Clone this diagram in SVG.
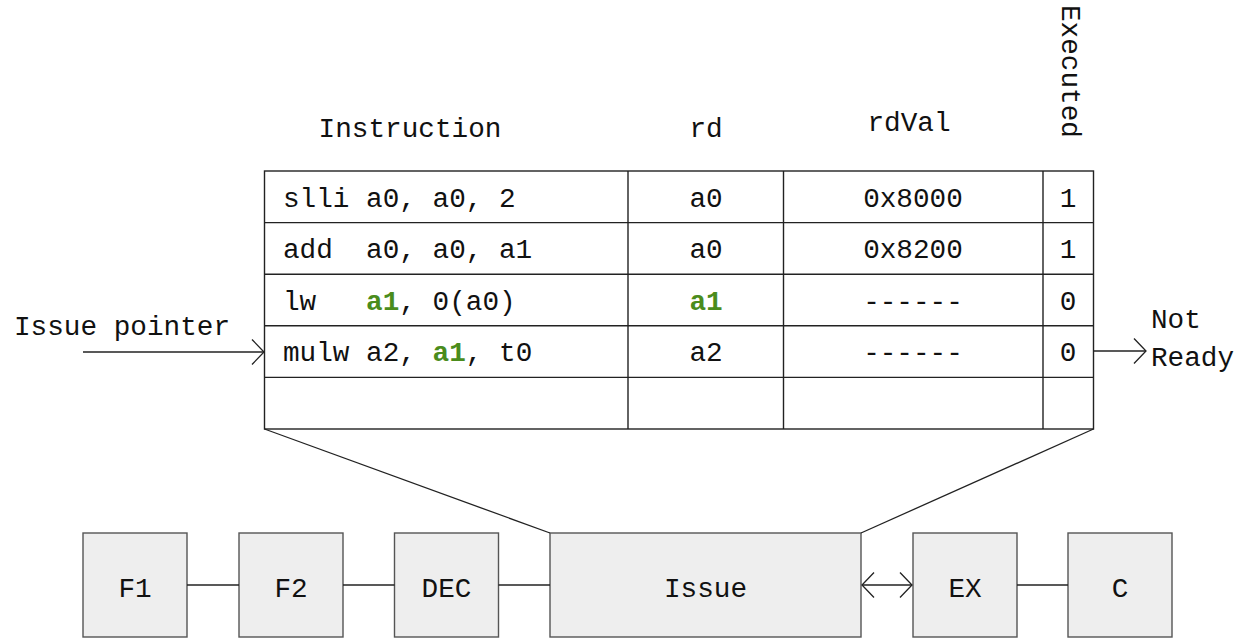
<svg xmlns="http://www.w3.org/2000/svg" width="1240" height="638" viewBox="0 0 1240 638">
  <style>
    text { font-family: "Liberation Mono", "Courier New", monospace; font-size: 27.7px; fill: #111; }
    .c { text-anchor: middle; }
    .hl { fill: #4a8c1c; font-weight: bold; }
    .grid { stroke: #222; stroke-width: 1.4; fill: none; }
    .stage rect { fill: #eeeeee; stroke: #555; stroke-width: 1.4; }
    .wire { stroke: #222; stroke-width: 1.3; fill: none; }
  </style>
  <defs>
    <marker id="chev" viewBox="-14 -14 16 28" markerWidth="16" markerHeight="28" refX="0" refY="0" orient="auto-start-reverse" markerUnits="userSpaceOnUse">
      <path d="M-12,-12.5 L0,0 L-12,12.5" fill="none" stroke="#222" stroke-width="1.3"/>
    </marker>
  </defs>

  <!-- column headers -->
  <g id="headers">
    <text class="c" x="410" y="137">Instruction</text>
    <text class="c" x="706" y="137">rd</text>
    <text class="c" x="909" y="131">rdVal</text>
    <text transform="translate(1062,5) rotate(90)">Executed</text>
  </g>

  <!-- issue queue table -->
  <g id="queue">
    <rect class="grid" x="264.5" y="171" width="829" height="258"/>
    <line class="grid" x1="264.5" y1="222.6" x2="1093.5" y2="222.6"/>
    <line class="grid" x1="264.5" y1="274.2" x2="1093.5" y2="274.2"/>
    <line class="grid" x1="264.5" y1="325.8" x2="1093.5" y2="325.8"/>
    <line class="grid" x1="264.5" y1="377.4" x2="1093.5" y2="377.4"/>
    <line class="grid" x1="628" y1="171" x2="628" y2="429"/>
    <line class="grid" x1="783.5" y1="171" x2="783.5" y2="429"/>
    <line class="grid" x1="1043" y1="171" x2="1043" y2="429"/>

    <g id="row1">
      <text x="283" y="206.5" xml:space="preserve">slli a0, a0, 2</text>
      <text class="c" x="706" y="206.5">a0</text>
      <text class="c" x="913" y="206.5">0x8000</text>
      <text class="c" x="1068" y="206.5">1</text>
    </g>
    <g id="row2">
      <text x="283" y="258" xml:space="preserve">add  a0, a0, a1</text>
      <text class="c" x="706" y="258">a0</text>
      <text class="c" x="913" y="258">0x8200</text>
      <text class="c" x="1068" y="258">1</text>
    </g>
    <g id="row3">
      <text x="283" y="309.5" xml:space="preserve">lw   <tspan class="hl">a1</tspan>, 0(a0)</text>
      <text class="c hl" x="706" y="309.5">a1</text>
      <text class="c" x="913" y="309.5">------</text>
      <text class="c" x="1068" y="309.5">0</text>
    </g>
    <g id="row4">
      <text x="283" y="361" xml:space="preserve">mulw a2, <tspan class="hl">a1</tspan>, t0</text>
      <text class="c" x="706" y="361">a2</text>
      <text class="c" x="913" y="361">------</text>
      <text class="c" x="1068" y="361">0</text>
    </g>
  </g>

  <!-- side labels -->
  <g id="issue-pointer">
    <text x="14" y="335">Issue pointer</text>
  </g>
  <g id="not-ready">
    <text x="1151" y="328">Not</text>
    <text x="1151" y="366">Ready</text>
  </g>

  <!-- pipeline stages -->
  <g id="F1" class="stage"><rect x="83" y="533" width="104" height="104"/><text class="c" x="135" y="597">F1</text></g>
  <g id="F2" class="stage"><rect x="239" y="533" width="104" height="104"/><text class="c" x="291" y="597">F2</text></g>
  <g id="DEC" class="stage"><rect x="394.5" y="533" width="104" height="104"/><text class="c" x="446.5" y="597">DEC</text></g>
  <g id="Issue" class="stage"><rect x="550" y="533" width="311" height="104"/><text class="c" x="705.5" y="597">Issue</text></g>
  <g id="EX" class="stage"><rect x="913" y="533" width="104" height="104"/><text class="c" x="965" y="597">EX</text></g>
  <g id="C" class="stage"><rect x="1068" y="533" width="104" height="104"/><text class="c" x="1120" y="597">C</text></g>

  <!-- connectors -->
  <g id="connectors" class="wire">
    <line x1="264.5" y1="429" x2="550" y2="533"/>
    <line x1="1093.5" y1="429" x2="861" y2="533"/>
    <line x1="187" y1="585" x2="239" y2="585"/>
    <line x1="343" y1="585" x2="394.5" y2="585"/>
    <line x1="498.5" y1="585" x2="550" y2="585"/>
    <line x1="1017" y1="585" x2="1068" y2="585"/>
    <line x1="862" y1="585" x2="912" y2="585" marker-start="url(#chev)" marker-end="url(#chev)"/>
    <line x1="83" y1="352" x2="264" y2="352" marker-end="url(#chev)"/>
    <line x1="1093.5" y1="351" x2="1146" y2="351" marker-end="url(#chev)"/>
  </g>
</svg>
